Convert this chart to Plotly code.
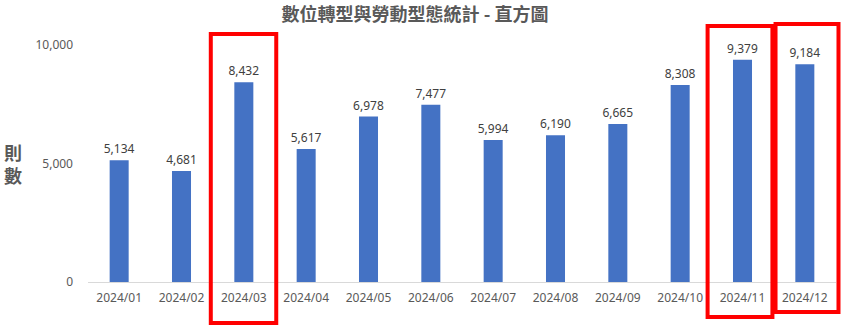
import plotly.graph_objects as go

categories = ["2024/01", "2024/02", "2024/03", "2024/04", "2024/05", "2024/06",
              "2024/07", "2024/08", "2024/09", "2024/10", "2024/11", "2024/12"]
counts = [5134, 4681, 8432, 5617, 6978, 7477, 5994, 6190, 6665, 8308, 9379, 9184]
y_ticks = [0, 5000, 10000]
title_text = "數位轉型與勞動型態統計 - 直方圖"
y_label = "則<br>數"

# highlight boxes: (category index, left offset, right offset, paper y0, paper y1)
highlights = [(2, -0.53, 0.52, -0.173, 1.046),
              (10, -0.56, 0.48, -0.148, 1.080),
              (11, -0.47, 0.54, -0.127, 1.089)]

n = len(categories)

fig = go.Figure()
fig.add_trace(go.Bar(
    x=list(range(n)), y=counts,
    marker=dict(color="#4472C4", line=dict(width=0)),
    width=0.305,
    text=[f"{v:,}" for v in counts], textposition="outside", constraintext="none",
    textfont=dict(family="Noto Sans", size=12, color="#404040"),
    cliponaxis=False, hoverinfo="skip",
))

for idx, l, r, y0, y1 in highlights:
    fig.add_shape(type="rect", xref="paper", yref="paper",
                  x0=(idx + 0.5 + l) / n, x1=(idx + 0.5 + r) / n, y0=y0, y1=y1,
                  line=dict(color="#FF0000", width=4), fillcolor="rgba(0,0,0,0)")

fig.add_annotation(text="<b>" + y_label + "</b>", xref="paper", yref="paper", x=-0.1, y=0.5,
                   xanchor="center", yanchor="middle", showarrow=False,
                   font=dict(family="Noto Sans CJK TC", size=18, color="#595959"))

fig.update_layout(
    width=847, height=330,
    margin=dict(l=88, r=11, t=45, b=48),
    paper_bgcolor="white", plot_bgcolor="white",
    title=dict(text="<b>" + title_text + "</b>", x=0.49, xanchor="center", y=0.955, yanchor="middle",
               font=dict(family="Noto Sans CJK TC", size=18, color="#595959")),
    showlegend=False,
    bargap=0.7,
    xaxis=dict(tickmode="array", tickvals=list(range(n)), ticktext=categories,
               range=[-0.5, n - 0.5], ticklabelstandoff=5,
               showline=True, linecolor="#D9D9D9", linewidth=1, showgrid=False, zeroline=False,
               ticks="", tickfont=dict(family="Noto Sans", size=12, color="#595959")),
    yaxis=dict(range=[0, 10000], tickvals=y_ticks, tickformat=",", showgrid=False,
               zeroline=False, showline=False, ticks="", ticklabelstandoff=14,
               tickfont=dict(family="Noto Sans", size=12, color="#595959")),
)

fig.write_html("out.html")
